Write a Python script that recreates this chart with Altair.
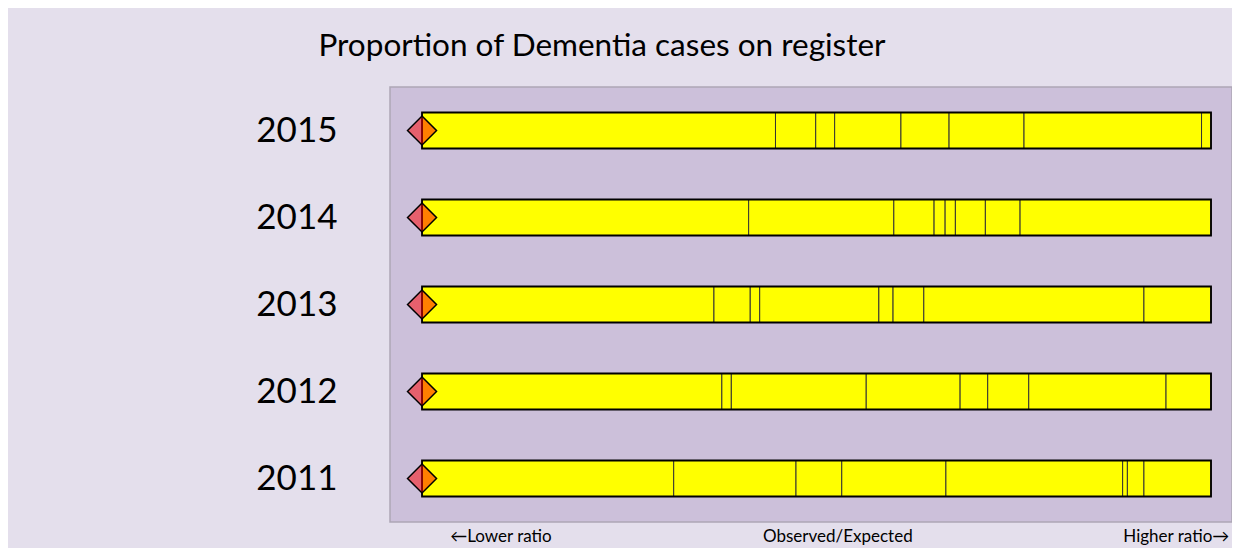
import altair as alt
import pandas as pd

# ---- data ----
years = ["2015", "2014", "2013", "2012", "2011"]
breaks_2015 = [0, 44.8, 49.9, 52.3, 60.7, 66.8, 76.3, 98.8, 100]
breaks_2014 = [0, 41.4, 59.8, 64.9, 66.3, 67.6, 71.4, 75.8, 100]
breaks_2013 = [0, 37.0, 41.6, 42.8, 57.9, 59.7, 63.6, 91.5, 100]
breaks_2012 = [0, 38.0, 39.2, 56.3, 68.2, 71.7, 76.9, 94.3, 100]
breaks_2011 = [0, 31.9, 47.4, 53.2, 66.4, 88.8, 89.4, 91.5, 100]
observed = [0, 0, 0, 0, 0]
bar_start = [0, 0, 0, 0, 0]
bar_end = [100, 100, 100, 100, 100]
note_texts = ["\u2190Lower ratio", "Observed/Expected", "Higher ratio\u2192"]
note_pos = [10.0, 52.7, 95.6]
title_text = "Proportion of Dementia cases on register"

all_breaks = [breaks_2015, breaks_2014, breaks_2013, breaks_2012, breaks_2011]
seg_rows = []
for yr, br in zip(years, all_breaks):
    for a, b in zip(br[:-1], br[1:]):
        seg_rows.append({"year": yr, "start": a, "end": b})
segs = pd.DataFrame(seg_rows)
rows = pd.DataFrame({"year": years, "obs": observed, "s": bar_start, "e": bar_end})
notes = pd.DataFrame({"label": note_texts, "pos": note_pos})

FONT = "Lato"
xscale = alt.Scale(domain=[-4.06, 102.66], nice=False, zero=False)
yscale = alt.Scale(domain=years, paddingInner=0, paddingOuter=0)

yenc = alt.Y("year:N", scale=yscale, sort=years,
             axis=alt.Axis(title=None, ticks=False, tickSize=0, domain=False,
                           labelPadding=53, labelFontSize=35, labelFont=FONT,
                           labelColor="#000000", grid=False))

segments = alt.Chart(segs).mark_bar(
    size=36, fill="#FFFF00", stroke="#333333", strokeWidth=1
).encode(
    x=alt.X("start:Q", scale=xscale, axis=None),
    x2="end:Q",
    y=yenc,
)

outline = alt.Chart(rows).mark_bar(
    size=36, fillOpacity=0, stroke="#000000", strokeWidth=1.8
).encode(
    x=alt.X("s:Q", scale=xscale, axis=None),
    x2="e:Q",
    y=alt.Y("year:N", scale=yscale, sort=years),
)

diamond = alt.Chart(rows).mark_point(
    shape="diamond", filled=True, fill="#FF0000", fillOpacity=0.5,
    stroke="#000000", strokeOpacity=1, strokeWidth=1.5, size=841
).encode(
    x=alt.X("obs:Q", scale=xscale, axis=None),
    y=alt.Y("year:N", scale=yscale, sort=years),
)

title = alt.Chart(pd.DataFrame({"t": [title_text]})).mark_text(
    font=FONT, fontSize=31.5, color="#000000", align="center", baseline="middle"
).encode(
    text="t:N", x=alt.value(212), y=alt.value(-40)
)

bottom = alt.Chart(notes).mark_text(
    font=FONT, fontSize=17, color="#000000", align="center", baseline="middle"
).encode(
    text="label:N",
    x=alt.X("pos:Q", scale=xscale, axis=None),
    y=alt.value(450),
)

chart = alt.layer(segments, outline, diamond, title, bottom).properties(
    width=842, height=435,
    background="#E4DFEC",
    autosize=alt.AutoSizeParams(type="none"),
    padding={"left": 382, "top": 79, "right": 0, "bottom": 26},
).configure_view(
    fill="#CCC0DA", stroke="#ADA6B5", strokeWidth=1.5
)

chart.save("out.html", embed_options={"renderer": "svg", "actions": False})
